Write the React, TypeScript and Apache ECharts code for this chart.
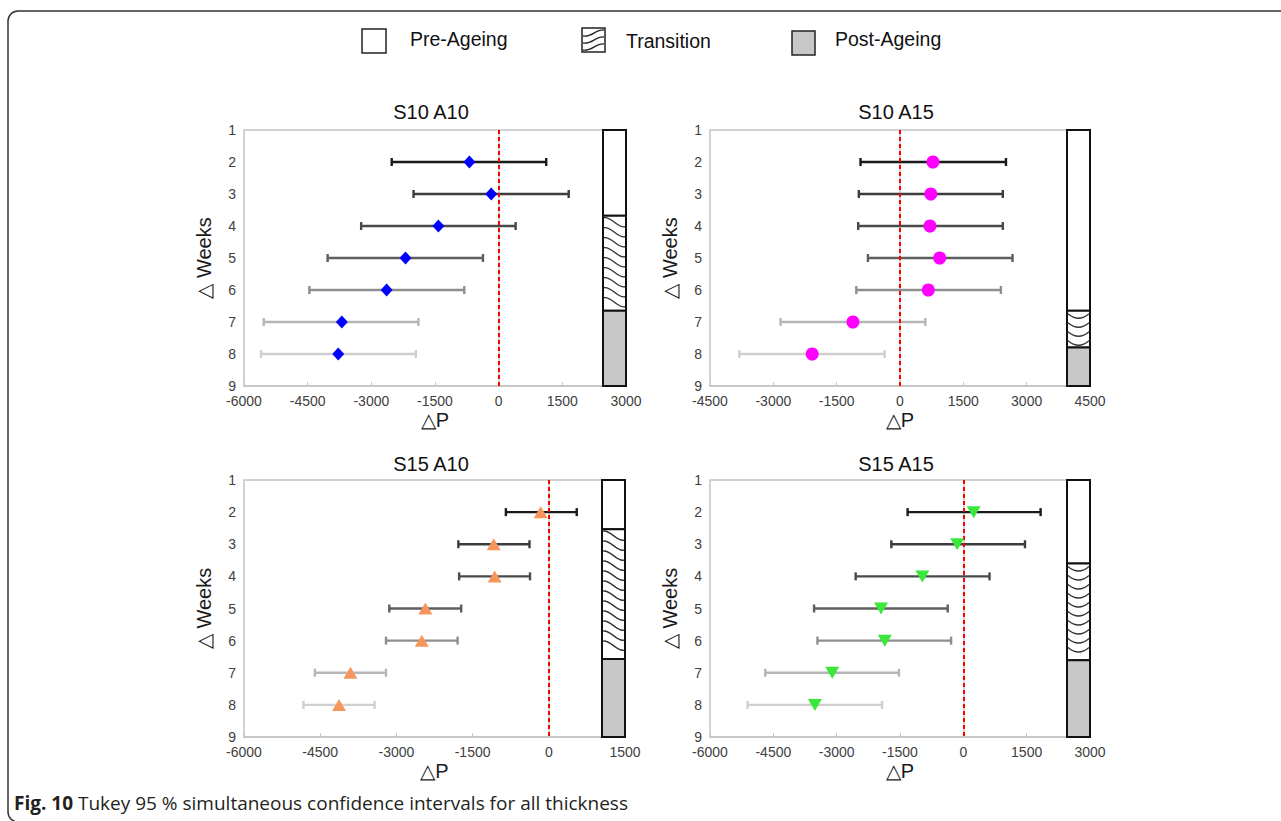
import React, { useEffect, useRef } from "react";
import * as echarts from "echarts";

// ---------- data ----------
const weeks = [2, 3, 4, 5, 6, 7, 8];
const panelTitles = ["S10 A10", "S10 A15", "S15 A10", "S15 A15"];
const xMins = [-6000, -4500, -6000, -6000];
const xMaxs = [3000, 4500, 1500, 3000];
const xInterval = 1500;

const s10a10Mean = [-690, -175, -1420, -2195, -2640, -3695, -3780];
const s10a10Low = [-2520, -2005, -3240, -4030, -4460, -5535, -5600];
const s10a10High = [1120, 1650, 400, -370, -810, -1890, -1950];

const s10a15Mean = [780, 730, 710, 940, 670, -1115, -2080];
const s10a15Low = [-935, -975, -990, -760, -1035, -2830, -3805];
const s10a15High = [2510, 2435, 2435, 2665, 2390, 600, -365];

const s15a10Mean = [-160, -1085, -1065, -2430, -2500, -3905, -4130];
const s15a10Low = [-845, -1780, -1765, -3140, -3205, -4605, -4830];
const s15a10High = [550, -380, -370, -1725, -1795, -3205, -3430];

const s15a15Mean = [245, -145, -970, -1950, -1860, -3105, -3515];
const s15a15Low = [-1320, -1705, -2550, -3535, -3455, -4690, -5110];
const s15a15High = [1830, 1460, 620, -370, -290, -1525, -1925];

// phase boundaries in week units: pre-ageing | transition | post-ageing
const s10a10Phases = [1, 3.68, 6.65, 9];
const s10a15Phases = [1, 6.65, 7.8, 9];
const s15a10Phases = [1, 2.53, 6.57, 9];
const s15a15Phases = [1, 3.6, 6.61, 9];

const legendLabels = ["Pre-Ageing", "Transition", "Post-Ageing"];
const captionBold = "Fig. 10";
const captionText = " Tukey 95 % simultaneous confidence intervals for all thickness";

// ---------- styles ----------
const barColors = ["#1a1a1a", "#3c3c3c", "#4a4a4a", "#5e5e5e", "#8e8e8e", "#b6b6b6", "#cfcfcf"];
const markerSymbols = ["diamond", "circle", "triangle", "triangle"];
const markerRotate = [0, 0, 0, 180];
const markerColors = ["#0000ff", "#ff00ff", "#f7965c", "#3ae83a"];
const markerSizes = [[12, 13], 13, [14, 12], [14, 12]];
const patterns = ["wave", "arc", "wave", "arc"];
const grids = [
  { left: 244, top: 130, width: 382, height: 256 },
  { left: 710, top: 130, width: 380, height: 256 },
  { left: 244, top: 480, width: 381, height: 257 },
  { left: 710, top: 480, width: 380, height: 257 },
];
const titlePos = [
  [426, 97],
  [891, 97],
  [426, 449],
  [891, 449],
];
const FONT = "Arial";
const CAPFONT = "Open Sans";

const means = [s10a10Mean, s10a15Mean, s15a10Mean, s15a15Mean];
const lows = [s10a10Low, s10a15Low, s15a10Low, s15a15Low];
const highs = [s10a10High, s10a15High, s15a10High, s15a15High];
const phases = [s10a10Phases, s10a15Phases, s15a10Phases, s15a15Phases];

function errorBarRender(params: any, api: any) {
  const y = api.value(0);
  const p1 = api.coord([api.value(1), y]);
  const p2 = api.coord([api.value(2), y]);
  const color = barColors[params.dataIndex];
  const st = { stroke: color, lineWidth: 2.4 };
  return {
    type: "group",
    children: [
      { type: "line", shape: { x1: p1[0], y1: p1[1], x2: p2[0], y2: p2[1] }, style: st },
      { type: "line", shape: { x1: p1[0], y1: p1[1] - 4, x2: p1[0], y2: p1[1] + 4 }, style: st },
      { type: "line", shape: { x1: p2[0], y1: p2[1] - 4, x2: p2[0], y2: p2[1] + 4 }, style: st },
    ],
  };
}

function boxRender(xMax: number, pattern: string) {
  return (params: any, api: any) => {
    const s = api.value(0);
    const e = api.value(1);
    const k = api.value(2);
    const pT = api.coord([xMax, s]);
    const pB = api.coord([xMax, e]);
    const w = 23;
    const right = pT[0];
    const left = right - w;
    const top = pT[1];
    const bot = pB[1];
    const children: any[] = [
      {
        type: "rect",
        shape: { x: left, y: top, width: w, height: bot - top },
        style: { fill: k === 2 ? "#c8c8c8" : "#ffffff", stroke: "#111", lineWidth: 2 },
      },
    ];
    if (k === 1) {
      const ls = { stroke: "#333", lineWidth: 1.4, fill: "none" };
      if (pattern === "wave") {
        for (let y0 = top + 2; y0 + 9 <= bot - 1; y0 += 10) {
          children.push({
            type: "bezierCurve",
            shape: {
              x1: left + 1, y1: y0, x2: right - 1, y2: y0 + 9,
              cpx1: left + w * 0.35, cpy1: y0 - 2, cpx2: left + w * 0.65, cpy2: y0 + 11,
            },
            style: ls,
          });
        }
      } else {
        for (let y0 = top + 3; y0 + 5 <= bot - 1; y0 += 9) {
          children.push({
            type: "bezierCurve",
            shape: { x1: left + 1, y1: y0, x2: right - 1, y2: y0, cpx1: left + w / 2, cpy1: y0 + 9 },
            style: ls,
          });
        }
      }
    }
    return { type: "group", children };
  };
}

export default function App() {
  const ref = useRef<HTMLDivElement>(null);
  useEffect(() => {
    document.body.style.margin = "0";
    if (!ref.current) return;
    const chart = echarts.init(ref.current, undefined, { renderer: "svg" });

    const xAxis = grids.map((_, i) => ({
      type: "value",
      gridIndex: i,
      min: xMins[i],
      max: xMaxs[i],
      interval: xInterval,
      name: "△P",
      nameLocation: "middle",
      nameGap: 24,
      nameTextStyle: { fontSize: 20, color: "#1a1a1a", fontFamily: FONT },
      axisLine: { show: true, lineStyle: { color: "#c4c4c4", width: 1.5 } },
      axisTick: { show: true, inside: true, length: 4, lineStyle: { color: "#c4c4c4" } },
      axisLabel: { fontSize: 14, color: "#404040", margin: 8, fontFamily: FONT, formatter: (v: number) => String(v) },
      splitLine: { show: false },
    }));
    const yAxis = grids.map((_, i) => ({
      type: "value",
      gridIndex: i,
      min: 1,
      max: 9,
      interval: 1,
      inverse: true,
      name: "△ Weeks",
      nameLocation: "middle",
      nameGap: 30,
      nameTextStyle: { fontSize: 20, color: "#1a1a1a", fontFamily: FONT },
      axisLine: { show: true, lineStyle: { color: "#c4c4c4", width: 1.5 } },
      axisTick: { show: false },
      axisLabel: { fontSize: 14, color: "#404040", margin: 8, fontFamily: FONT, formatter: (v: number) => String(v) },
      splitLine: { show: false },
    }));

    const series: any[] = [];
    grids.forEach((_, i) => {
      series.push({
        type: "custom",
        xAxisIndex: i,
        yAxisIndex: i,
        renderItem: errorBarRender,
        encode: { x: [1, 2], y: 0 },
        data: weeks.map((w, j) => [w, lows[i][j], highs[i][j]]),
        z: 2,
        silent: true,
      });
      series.push({
        type: "scatter",
        xAxisIndex: i,
        yAxisIndex: i,
        symbol: markerSymbols[i],
        symbolRotate: markerRotate[i],
        symbolSize: markerSizes[i],
        itemStyle: { color: markerColors[i], opacity: 1 },
        data: weeks.map((w, j) => [means[i][j], w]),
        z: 4,
        markLine: {
          silent: true,
          symbol: ["none", "none"],
          label: { show: false },
          lineStyle: { color: "#ff0000", type: [4, 3], width: 2 },
          data: [{ xAxis: 0 }],
          z: 3,
        },
      });
      const ph = phases[i];
      series.push({
        type: "custom",
        xAxisIndex: i,
        yAxisIndex: i,
        renderItem: boxRender(xMaxs[i], patterns[i]),
        encode: { y: [0, 1] },
        data: [0, 1, 2].map((k) => [ph[k], ph[k + 1], k]),
        z: 6,
        silent: true,
        clip: false,
      });
    });

    const legendTextX = [410, 626, 835];
    const legendGraphics: any[] = [
      { type: "rect", shape: { x: 362, y: 29, width: 24, height: 24 }, style: { fill: "#fff", stroke: "#222", lineWidth: 1.5 } },
      { type: "rect", shape: { x: 582, y: 28, width: 23, height: 24 }, style: { fill: "#fff", stroke: "#222", lineWidth: 1.5 } },
      { type: "rect", shape: { x: 792, y: 31, width: 23, height: 24 }, style: { fill: "#c8c8c8", stroke: "#222", lineWidth: 1.5 } },
    ];
    [30, 37, 44].forEach((y) => {
      legendGraphics.push({
        type: "bezierCurve",
        shape: { x1: 583, y1: y + 6, x2: 604, y2: y, cpx1: 591, cpy1: y + 8, cpx2: 596, cpy2: y - 1 },
        style: { stroke: "#222", lineWidth: 1.3, fill: "none" },
      });
    });
    legendLabels.forEach((t, i) => {
      legendGraphics.push({
        type: "text",
        x: legendTextX[i],
        y: i === 1 ? 41 : 39,
        style: { text: t, fontSize: 19.5, fill: "#111", fontFamily: FONT, textVerticalAlign: "middle" },
      });
    });

    chart.setOption({
      animation: false,
      backgroundColor: "#ffffff",
      title: panelTitles.map((t, i) => ({
        text: t,
        left: titlePos[i][0],
        top: titlePos[i][1],
        textAlign: "center",
        textStyle: { fontSize: 20, fontWeight: "normal", color: "#111", fontFamily: FONT },
      })),
      grid: grids.map((g) => ({ ...g, show: true, borderColor: "#c4c4c4", borderWidth: 1.5, backgroundColor: "transparent" })),
      xAxis,
      yAxis,
      series,
      graphic: [
        {
          type: "rect",
          shape: { x: 8, y: 11, width: 1300, height: 811, r: 10 },
          style: { fill: "none", stroke: "#333", lineWidth: 1.5 },
          silent: true,
        },
        ...legendGraphics,
        {
          type: "text",
          x: 14,
          y: 803,
          style: {
            text: "{b|" + captionBold + "}" + captionText,
            fontSize: 19,
            fill: "#231f20",
            fontFamily: CAPFONT,
            textVerticalAlign: "middle",
            rich: { b: { fontWeight: "bold", fontSize: 19, fontFamily: CAPFONT, fill: "#231f20" } },
          },
        },
      ],
    });
    return () => chart.dispose();
  }, []);
  return <div ref={ref} style={{ width: 1281, height: 821 }} />;
}
